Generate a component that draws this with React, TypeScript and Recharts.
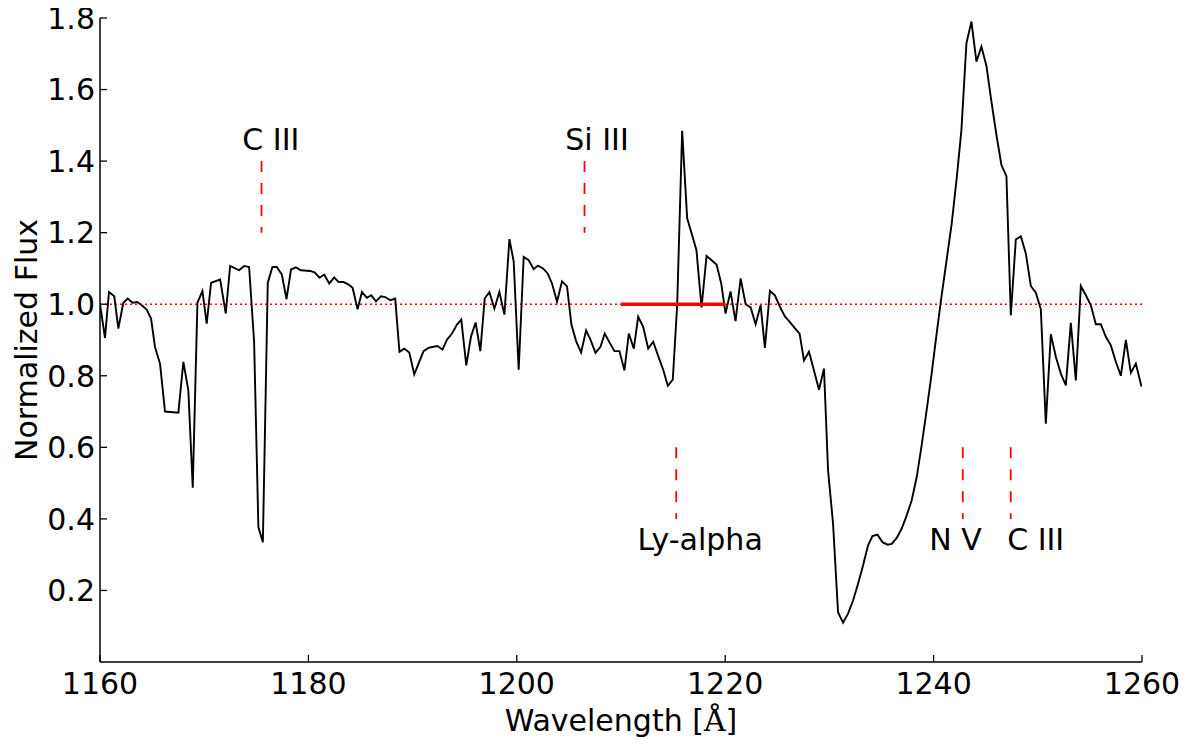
import React from 'react';
import { LineChart, Line, XAxis, YAxis, ReferenceLine, ReferenceDot } from 'recharts';

const FONT = '"DejaVu Sans", sans-serif';

const wavelengths = [
  1160.0, 1160.48, 1160.86, 1161.37, 1161.76, 1162.24, 1162.66, 1163.13, 1163.58, 1164.0,
  1164.48, 1164.9, 1165.28, 1165.76, 1166.24, 1167.52, 1168.0, 1168.48, 1168.9, 1169.35,
  1169.83, 1170.24, 1170.66, 1171.53, 1172.07, 1172.49, 1173.35, 1173.83, 1174.31, 1174.79,
  1175.2, 1175.63, 1176.1, 1176.55, 1176.97, 1177.45, 1177.9, 1178.33, 1178.8, 1179.28,
  1180.17, 1180.59, 1181.07, 1181.52, 1182.0, 1182.48, 1182.9, 1183.38, 1183.86, 1184.24,
  1184.72, 1185.14, 1185.62, 1186.03, 1186.48, 1186.96, 1187.37, 1187.85, 1188.33, 1188.74,
  1189.2, 1189.68, 1190.16, 1190.57, 1191.05, 1191.53, 1192.01, 1192.39, 1192.87, 1193.3,
  1193.78, 1194.26, 1194.67, 1195.15, 1195.6, 1196.05, 1196.5, 1196.92, 1197.37, 1197.85,
  1198.33, 1198.81, 1199.29, 1199.7, 1200.18, 1200.66, 1201.14, 1201.62, 1202.04, 1202.52,
  1202.96, 1203.38, 1203.86, 1204.34, 1204.82, 1205.24, 1205.69, 1206.17, 1206.65, 1207.07,
  1207.55, 1208.03, 1208.44, 1208.92, 1209.37, 1209.85, 1210.33, 1210.75, 1211.23, 1211.65,
  1212.13, 1212.61, 1213.09, 1213.57, 1214.05, 1214.49, 1214.97, 1215.39, 1215.87, 1216.35,
  1216.83, 1217.24, 1217.73, 1218.21, 1218.69, 1219.17, 1219.62, 1220.03, 1220.51, 1220.99,
  1221.48, 1221.96, 1222.44, 1222.92, 1223.4, 1223.81, 1224.29, 1224.77, 1225.25, 1225.73,
  1226.21, 1226.66, 1227.14, 1227.56, 1228.04, 1228.52, 1229.0, 1229.48, 1229.87, 1230.35,
  1230.83, 1231.31, 1231.79, 1232.27, 1232.75, 1233.23, 1233.71, 1234.13, 1234.61, 1235.09,
  1235.57, 1235.98, 1236.46, 1236.94, 1237.42, 1237.9, 1238.38, 1238.83, 1239.31, 1239.79,
  1240.27, 1240.75, 1241.74, 1242.23, 1242.67, 1243.15, 1243.63, 1244.11, 1244.59, 1245.07,
  1245.55, 1246.03, 1246.51, 1246.99, 1247.41, 1247.89, 1248.37, 1248.85, 1249.33, 1249.81,
  1250.29, 1250.77, 1251.25, 1251.73, 1252.21, 1252.69, 1253.17, 1253.65, 1254.13, 1254.61,
  1255.09, 1255.57, 1256.05, 1256.53, 1257.01, 1257.49, 1257.97, 1258.45, 1258.93, 1259.41,
  1259.95,
];

const flux = [
  1.0, 0.906, 1.034, 1.022, 0.932, 1.004, 1.016, 1.004, 1.006, 0.997,
  0.985, 0.96, 0.88, 0.834, 0.7, 0.697, 0.839, 0.759, 0.487, 1.004,
  1.037, 0.946, 1.06, 1.069, 0.974, 1.107, 1.095, 1.107, 1.104, 0.895,
  0.377, 0.335, 1.06, 1.104, 1.104, 1.083, 1.014, 1.097, 1.103, 1.095,
  1.093, 1.089, 1.074, 1.083, 1.058, 1.075, 1.062, 1.062, 1.055, 1.046,
  0.986, 1.034, 1.018, 1.025, 1.008, 1.022, 1.02, 1.011, 1.016, 0.867,
  0.876, 0.865, 0.804, 0.834, 0.869, 0.878, 0.881, 0.883, 0.873, 0.901,
  0.918, 0.943, 0.957, 0.829, 0.909, 0.949, 0.869, 1.016, 1.034, 0.988,
  1.034, 0.971, 1.182, 1.12, 0.817, 1.132, 1.123, 1.098, 1.108, 1.1,
  1.086, 1.058, 1.007, 1.064, 1.05, 0.943, 0.897, 0.865, 0.927, 0.901,
  0.864, 0.881, 0.918, 0.892, 0.869, 0.869, 0.815, 0.918, 0.876, 0.965,
  0.937, 0.876, 0.895, 0.855, 0.817, 0.772, 0.789, 0.997, 1.485, 1.24,
  1.193, 1.151, 0.991, 1.135, 1.123, 1.111, 1.058, 0.974, 1.036, 0.953,
  1.072, 1.0, 0.991, 0.944, 0.997, 0.878, 1.037, 1.025, 0.993, 0.966,
  0.95, 0.934, 0.918, 0.843, 0.867, 0.815, 0.761, 0.82, 0.536, 0.387,
  0.139, 0.11, 0.135, 0.172, 0.219, 0.27, 0.326, 0.352, 0.356, 0.335,
  0.328, 0.33, 0.347, 0.373, 0.41, 0.452, 0.517, 0.601, 0.699, 0.801,
  0.913, 1.02, 1.226, 1.356, 1.487, 1.729, 1.79, 1.678, 1.72, 1.666,
  1.566, 1.473, 1.389, 1.358, 0.969, 1.181, 1.19, 1.142, 1.051, 1.032,
  0.986, 0.666, 0.916, 0.853, 0.806, 0.773, 0.948, 0.787, 1.051, 1.025,
  0.997, 0.944, 0.944, 0.909, 0.885, 0.839, 0.8, 0.9, 0.808, 0.834,
  0.77,
];

const xTicks = [1160, 1180, 1200, 1220, 1240, 1260];
const yTicks = [0.2, 0.4, 0.6, 0.8, 1.0, 1.2, 1.4, 1.6, 1.8];

const lineNames = ['C III', 'Si III', 'Ly-alpha', 'N V', 'C III'];
const lineWavelengths = [1175.5, 1206.5, 1215.3, 1242.8, 1247.4];
const markerTop = [1.4, 1.4, 0.6, 0.6, 0.6];
const markerBottom = [1.2, 1.2, 0.4, 0.4, 0.4];
const labelX = [1176.4, 1207.7, 1217.6, 1242.1, 1249.8];
const labelY = [1.462, 1.462, 0.343, 0.343, 0.343];

const continuumLevel = 1.0;
const rangeStart = 1210;
const rangeEnd = 1220;

const data = wavelengths.map((w, i) => ({ w, f: flux[i] }));

const TICK_LEN = 7;

const LeftTick = (props: any) => {
  const { x, y, payload } = props;
  return (
    <g>
      <line x1={x} x2={x + TICK_LEN} y1={y} y2={y} stroke="#000" strokeWidth={1.3} />
      <text x={x - 5} y={y} dy="0.36em" textAnchor="end" fontSize={30} fontFamily={FONT} fill="#000">
        {Number(payload.value).toFixed(1)}
      </text>
    </g>
  );
};

const RightTick = (props: any) => {
  const { x, y } = props;
  return <line x1={x - TICK_LEN} x2={x} y1={y} y2={y} stroke="#000" strokeWidth={1.3} />;
};

const BottomTick = (props: any) => {
  const { x, y, payload } = props;
  return (
    <g>
      <line x1={x} x2={x} y1={y} y2={y - TICK_LEN} stroke="#000" strokeWidth={1.3} />
      <text x={x} y={y + 32} textAnchor="middle" fontSize={30} fontFamily={FONT} fill="#000">
        {payload.value}
      </text>
    </g>
  );
};

const TopTick = (props: any) => {
  const { x, y } = props;
  return <line x1={x} x2={x} y1={y} y2={y + TICK_LEN} stroke="#000" strokeWidth={1.3} />;
};

const XLabel = (props: any) => {
  const vb = props.viewBox;
  return (
    <text x={vb.x + vb.width / 2} y={vb.y + 69} textAnchor="middle" fontSize={30} fontFamily={FONT} fill="#000">
      Wavelength [<tspan fontFamily='"DejaVu Serif", serif'>Å</tspan>]
    </text>
  );
};

const YLabel = (props: any) => {
  const vb = props.viewBox;
  const cx = vb.x + 18;
  const cy = vb.y + vb.height / 2;
  return (
    <text
      x={cx}
      y={cy}
      dy="0.36em"
      textAnchor="middle"
      fontSize={30}
      fontFamily={FONT}
      fill="#000"
      transform={`rotate(-90 ${cx} ${cy})`}
    >
      Normalized Flux
    </text>
  );
};

export default function App() {
  return (
    <div style={{ width: 1183, height: 744, marginTop: -8, background: '#fff' }}>
      <LineChart
        width={1183}
        height={744}
        data={data}
        margin={{ top: 18, right: 49, bottom: 0, left: 0 }}
      >
        <XAxis
          dataKey="w"
          type="number"
          domain={[1160, 1260]}
          allowDataOverflow
          ticks={xTicks}
          height={82}
          tickSize={0}
          tickMargin={0}
          tickLine={false}
          axisLine={{ stroke: '#000', strokeWidth: 1.5 }}
          tick={<BottomTick />}
          label={<XLabel />}
          interval={0}
        />
        <XAxis
          xAxisId="top"
          orientation="top"
          dataKey="w"
          type="number"
          domain={[1160, 1260]}
          allowDataOverflow
          ticks={xTicks}
          height={0}
          tickSize={0}
          tickMargin={0}
          tickLine={false}
          axisLine={{ stroke: '#000', strokeWidth: 1.5 }}
          tick={<TopTick />}
          interval={0}
        />
        <YAxis
          type="number"
          domain={[0, 1.8]}
          allowDataOverflow
          ticks={yTicks}
          width={92}
          tickSize={0}
          tickMargin={0}
          tickLine={false}
          axisLine={{ stroke: '#000', strokeWidth: 1.5 }}
          tick={<LeftTick />}
          label={<YLabel />}
          interval={0}
        />
        <YAxis
          yAxisId="right"
          orientation="right"
          type="number"
          domain={[0, 1.8]}
          allowDataOverflow
          ticks={yTicks}
          width={0}
          tickSize={0}
          tickMargin={0}
          tickLine={false}
          axisLine={{ stroke: '#000', strokeWidth: 1.5 }}
          tick={<RightTick />}
          interval={0}
        />
        <ReferenceLine y={continuumLevel} stroke="#ff0000" strokeWidth={1.5} strokeDasharray="2 3" />
        <Line
          type="linear"
          dataKey="f"
          stroke="#000"
          strokeWidth={1.9}
          dot={false}
          activeDot={false}
          isAnimationActive={false}
        />
        <ReferenceLine
          segment={[{ x: rangeStart, y: continuumLevel }, { x: rangeEnd, y: continuumLevel }]}
          stroke="#ff0000"
          strokeWidth={3.5}
        />
        {lineWavelengths.map((w, i) => (
          <ReferenceLine
            key={`m${i}`}
            segment={[{ x: w, y: markerTop[i] }, { x: w, y: markerBottom[i] }]}
            stroke="#ff0000"
            strokeWidth={1.8}
            strokeDasharray="11 11"
          />
        ))}
        {lineNames.map((name, i) => (
          <ReferenceDot
            key={`l${i}`}
            x={labelX[i]}
            y={labelY[i]}
            r={0}
            fill="none"
            stroke="none"
            label={{ value: name, position: 'center', fontSize: 30, fill: '#000', fontFamily: FONT }}
          />
        ))}
      </LineChart>
    </div>
  );
}
